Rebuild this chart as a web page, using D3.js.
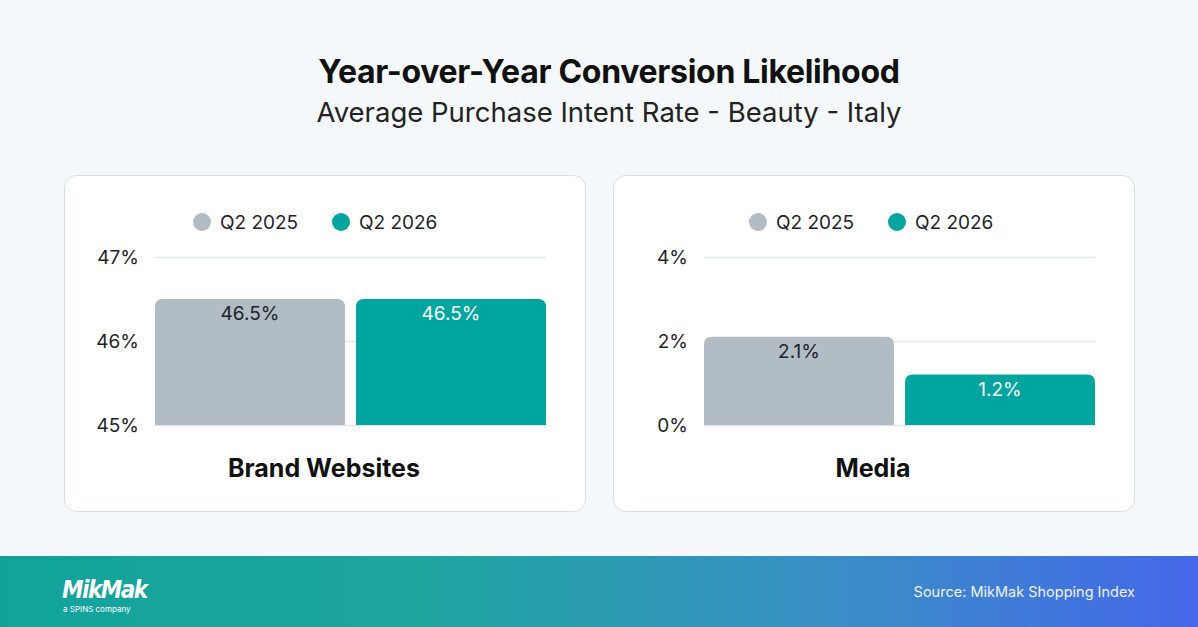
<!DOCTYPE html>
<html><head><meta charset="utf-8">
<script src="https://cdn.jsdelivr.net/npm/d3@7"></script>
<style>
html,body{margin:0;padding:0;background:#f5f8fb;}
svg{display:block;font-family:Inter,"Noto Sans",sans-serif;}
</style></head>
<body><svg id="c" width="1198" height="627"></svg>
<script>
const title = "Year-over-Year Conversion Likelihood";
const subtitle = "Average Purchase Intent Rate - Beauty - Italy";
const seriesNames = ["Q2 2025", "Q2 2026"];
const seriesColors = ["#b1bcc4", "#00a5a0"];
const labelColors = ["#1f2328", "#ffffff"];
const panelNames = ["Brand Websites", "Media"];
const brandValues = [46.5, 46.5];
const mediaValues = [2.1, 1.2];
const brandTicks = [45, 46, 47];
const mediaTicks = [0, 2, 4];
const source = "Source: MikMak Shopping Index";

const svg = d3.select("#c");
const W = 1198, H = 627;
svg.append("rect").attr("width", W).attr("height", H).attr("fill", "#f5f8fb");

svg.append("text").attr("x", 609).attr("y", 83).attr("text-anchor", "middle")
  .attr("font-size", 32).attr("font-weight", 700).attr("fill", "#111").attr("letter-spacing", -0.3).text(title);
svg.append("text").attr("x", 609).attr("y", 122).attr("text-anchor", "middle")
  .attr("font-size", 27.5).attr("font-weight", 400).attr("fill", "#222").text(subtitle);

const panels = [
  {x0: 64, legShift: 0, name: panelNames[0], values: brandValues, ticks: brandTicks, fmt: d => d + "%"},
  {x0: 613, legShift: 7, name: panelNames[1], values: mediaValues, ticks: mediaTicks, fmt: d => d + "%"}
];

panels.forEach(p => {
  const g = svg.append("g").attr("transform", `translate(${p.x0},0)`);
  g.append("rect").attr("x", 0.5).attr("y", 175.5).attr("width", 521).attr("height", 336)
    .attr("rx", 12).attr("fill", "#fff").attr("stroke", "#d8dde3");

  const legX = [138 + p.legShift, 277 + p.legShift];
  seriesNames.forEach((s, i) => {
    g.append("circle").attr("cx", legX[i]).attr("cy", 222).attr("r", 9).attr("fill", seriesColors[i]);
    g.append("text").attr("x", legX[i] + 18).attr("y", 229).attr("font-size", 19).attr("fill", "#1f2328").text(s);
  });

  const y = d3.scaleLinear().domain(d3.extent(p.ticks)).range([425, 257]);
  const x = d3.scaleBand().domain(seriesNames).range([91, 482]).paddingInner(0.055).paddingOuter(0);

  const ax = g.append("g").attr("transform", "translate(91,0)")
    .call(d3.axisLeft(y).tickValues(p.ticks).tickSize(-391).tickFormat(p.fmt).tickPadding(16));
  ax.select(".domain").remove();
  ax.selectAll(".tick line").attr("stroke", "#e3e6ea").attr("stroke-width", 1.5);
  ax.selectAll(".tick text").attr("font-size", 19).attr("fill", "#1f2328")
    .attr("font-family", "Inter,'Noto Sans',sans-serif");

  const r = 8;
  p.values.forEach((v, i) => {
    const bx = x(seriesNames[i]), bw = x.bandwidth(), by = y(v), bb = y(p.ticks[0]);
    const path = `M${bx},${bb}V${by + r}Q${bx},${by} ${bx + r},${by}H${bx + bw - r}Q${bx + bw},${by} ${bx + bw},${by + r}V${bb}Z`;
    g.append("path").attr("d", path).attr("fill", seriesColors[i]);
    g.append("text").attr("x", bx + bw / 2).attr("y", by + 21).attr("text-anchor", "middle")
      .attr("font-size", 19).attr("fill", labelColors[i]).text(v.toFixed(1) + "%");
  });

  g.append("text").attr("x", 260).attr("y", 477).attr("text-anchor", "middle")
    .attr("font-size", 25).attr("font-weight", 700).attr("fill", "#111").text(p.name);
});

const defs = svg.append("defs");
const grad = defs.append("linearGradient").attr("id", "fg").attr("x1", "0%").attr("x2", "100%");
grad.append("stop").attr("offset", "0%").attr("stop-color", "#11a39b");
grad.append("stop").attr("offset", "35%").attr("stop-color", "#1ea5a0");
grad.append("stop").attr("offset", "70%").attr("stop-color", "#3a8ec6");
grad.append("stop").attr("offset", "100%").attr("stop-color", "#4567ea");
svg.append("rect").attr("x", 0).attr("y", 556).attr("width", W).attr("height", H - 556).attr("fill", "url(#fg)");

svg.append("text").attr("x", 62).attr("y", 598).attr("font-size", 24).attr("font-weight", 700)
  .attr("font-style", "italic").attr("fill", "#fff").attr("letter-spacing", -1.5)
  .attr("font-family", "'DejaVu Sans Condensed','Liberation Sans Narrow',sans-serif").text("MikMak");
svg.append("text").attr("x", 63).attr("y", 612).attr("font-size", 8).attr("fill", "#fff").text("a SPINS company");

svg.append("text").attr("x", 1135).attr("y", 597).attr("text-anchor", "end")
  .attr("font-size", 14.5).attr("fill", "#eef3ff").text(source);
</script></body></html>
